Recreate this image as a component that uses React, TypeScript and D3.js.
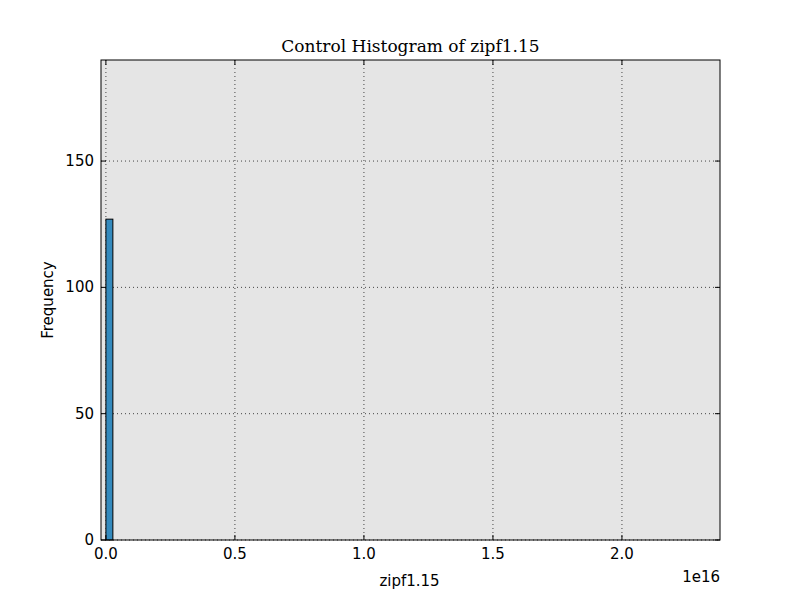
import * as d3 from "d3";

// histogram bins (start in units of 1e16, count)
const binStarts = [0.0, 0.027, 0.054];
const binCounts = [127, 0, 0];
const binWidth = 0.027;
const xTicks = [0, 0.5, 1.0, 1.5, 2.0];
const yTicks = [0, 50, 100, 150];

const margin = { top: 60, right: 80, bottom: 60, left: 101 };
const W = 800, H = 600;
const iw = W - margin.left - margin.right;
const ih = H - margin.top - margin.bottom;

export default function App() {
  const x = d3.scaleLinear().domain([-0.019, 2.38]).range([0, iw]);
  const y = d3.scaleLinear().domain([0, 190]).range([ih, 0]);
  const font = "DejaVu Sans, sans-serif";
  return (
    <svg width={W} height={H} style={{ position: "absolute", left: 0, top: 0, background: "#fff" }}>
      <g transform={`translate(${margin.left},${margin.top})`}>
        <rect width={iw} height={ih} fill="#e5e5e5" />
        {xTicks.map((t) => (
          <line key={"gx" + t} x1={x(t)} x2={x(t)} y1={0} y2={ih} stroke="#444" strokeDasharray="1,3" />
        ))}
        {yTicks.map((t) => (
          <line key={"gy" + t} x1={0} x2={iw} y1={y(t)} y2={y(t)} stroke="#444" strokeDasharray="1,3" />
        ))}
        {binCounts.map((c, i) =>
          c > 0 ? (
            <rect key={i} x={x(binStarts[i])} y={y(c)} width={x(binStarts[i] + binWidth) - x(binStarts[i])}
              height={ih - y(c)} fill="#348abd" stroke="#000" strokeWidth={1} />
          ) : null
        )}
        <rect width={iw} height={ih} fill="none" stroke="#000" strokeWidth={1} />
        {xTicks.map((t) => (
          <g key={"tx" + t}>
            <line x1={x(t)} x2={x(t)} y1={ih} y2={ih - 5} stroke="#000" />
            <line x1={x(t)} x2={x(t)} y1={0} y2={5} stroke="#000" />
            <text x={x(t)} y={ih + 19} textAnchor="middle" fontFamily={font} fontSize={15}>{t.toFixed(1)}</text>
          </g>
        ))}
        {yTicks.map((t) => (
          <g key={"ty" + t}>
            <line x1={0} x2={5} y1={y(t)} y2={y(t)} stroke="#000" />
            <line x1={iw} x2={iw - 5} y1={y(t)} y2={y(t)} stroke="#000" />
            <text x={-7} y={y(t) + 5} textAnchor="end" fontFamily={font} fontSize={15}>{t}</text>
          </g>
        ))}
        <text x={iw} y={ih + 42} textAnchor="end" fontFamily={font} fontSize={15}>1e16</text>
        <text x={iw / 2 - 1} y={ih + 46} textAnchor="middle" fontFamily={font} fontSize={15}>zipf1.15</text>
        <text transform={`translate(-48,${ih / 2}) rotate(-90)`} textAnchor="middle" fontFamily={font} fontSize={15}>Frequency</text>
        <text x={iw / 2} y={-8} textAnchor="middle" fontFamily="DejaVu Serif, serif" fontSize={17}>Control Histogram of zipf1.15</text>
      </g>
    </svg>
  );
}
